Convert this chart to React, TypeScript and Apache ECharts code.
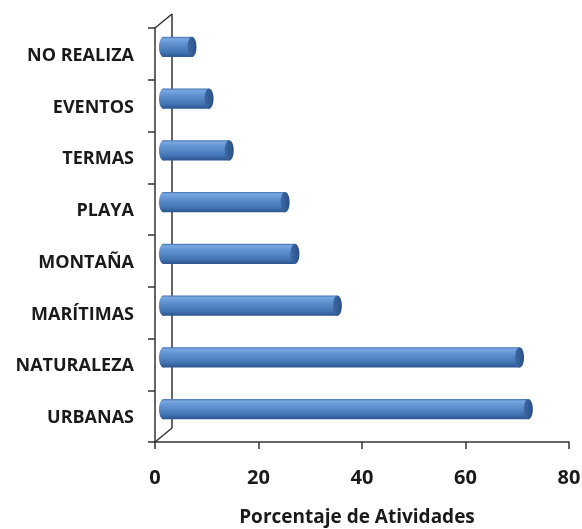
import React, { useEffect, useRef } from "react";
import * as echarts from "echarts";

const categories = ["URBANAS", "NATURALEZA", "MARÍTIMAS", "MONTAÑA", "PLAYA", "TERMAS", "EVENTOS", "NO REALIZA"];
const values = [70.5, 68.8, 33.6, 25.4, 23.5, 12.7, 8.8, 5.5];
const xTicks = [0, 20, 40, 60, 80];
const xAxisTitle = "Porcentaje de Atividades";

const GRID_LEFT = 155;
const GRID_RIGHT = 13;
const GRID_TOP = 28;
const GRID_BOTTOM = 87;
const DEPTH_X = 17;
const DEPTH_Y = -14;

export default function App() {
  const ref = useRef<HTMLDivElement>(null);
  useEffect(() => {
    document.body.style.margin = "0";
    const chart = echarts.init(ref.current!, null, { renderer: "svg" });
    const H = 529;
    const bodyGrad = new echarts.graphic.LinearGradient(0, 0, 0, 1, [
      { offset: 0, color: "#4674b4" },
      { offset: 0.1, color: "#78a6e0" },
      { offset: 0.35, color: "#5f90d0" },
      { offset: 0.75, color: "#4476b6" },
      { offset: 1, color: "#2b558f" },
    ]);
    const capGrad = new echarts.graphic.LinearGradient(0, 0, 1, 0, [
      { offset: 0, color: "#3c6aa6" },
      { offset: 1, color: "#2a4f86" },
    ]);
    const fx = GRID_LEFT;
    const top = GRID_TOP;
    const bottom = H - GRID_BOTTOM;
    const ls = { stroke: "#333", lineWidth: 1.5 };
    const option: any = {
      animation: false,
      grid: { left: GRID_LEFT, right: GRID_RIGHT, top: GRID_TOP, bottom: GRID_BOTTOM, containLabel: false, outerBoundsMode: "none" },
      xAxis: {
        type: "value",
        min: xTicks[0],
        max: xTicks[xTicks.length - 1],
        interval: 20,
        splitLine: { show: false },
        axisLine: { show: true, lineStyle: { color: "#333", width: 1.5 } },
        axisTick: { show: true, length: 7, lineStyle: { color: "#333", width: 1.5 } },
        axisLabel: { margin: 24, fontFamily: "Open Sans", fontWeight: "bold", fontSize: 20, color: "#1a1a1a" },
        name: xAxisTitle,
        nameLocation: "middle",
        nameGap: 64,
        nameTextStyle: { fontFamily: "Open Sans", fontWeight: "bold", fontSize: 19, color: "#1a1a1a", padding: [0, 10, 0, 0] },
      },
      yAxis: {
        type: "category",
        data: categories,
        axisLine: { show: true, lineStyle: { color: "#333", width: 1.5 } },
        axisTick: { show: true, length: 7, lineStyle: { color: "#333", width: 1.5 } },
        axisLabel: { margin: 21, fontFamily: "Open Sans", fontWeight: "bold", fontSize: 18, color: "#1a1a1a" },
      },
      graphic: [
        { type: "line", z: 1, shape: { x1: fx + DEPTH_X, y1: top + DEPTH_Y, x2: fx + DEPTH_X, y2: bottom + DEPTH_Y }, style: ls },
        { type: "line", z: 1, shape: { x1: fx, y1: top, x2: fx + DEPTH_X, y2: top + DEPTH_Y }, style: ls },
        { type: "line", z: 1, shape: { x1: fx, y1: bottom, x2: fx + DEPTH_X, y2: bottom + DEPTH_Y }, style: ls },
      ],
      series: [
        {
          type: "custom",
          z: 5,
          encode: { x: 0, y: 1 },
          data: values.map((v, i) => [v, i]),
          renderItem: (params: any, api: any) => {
            const cat = api.value(1);
            const v = api.value(0);
            const s = api.coord([0, cat]);
            const e = api.coord([v, cat]);
            const band = api.size([0, 1])[1];
            const h = band * 0.39;
            const rx = 4.5;
            const dx = DEPTH_X / 2;
            const dy = DEPTH_Y / 2;
            const x0 = s[0] + dx;
            const x1 = e[0] + dx;
            const cy = s[1] + dy;
            return {
              type: "group",
              children: [
                { type: "ellipse", shape: { cx: x0, cy, rx, ry: h / 2 }, style: { fill: bodyGrad } },
                { type: "rect", shape: { x: x0, y: cy - h / 2, width: x1 - x0, height: h }, style: { fill: bodyGrad } },
                { type: "ellipse", shape: { cx: x1, cy, rx, ry: h / 2 }, style: { fill: capGrad } },
              ],
            };
          },
        },
      ],
    };
    chart.setOption(option);
    return () => chart.dispose();
  }, []);
  return <div ref={ref} style={{ position: "fixed", left: 0, top: 0, width: 582, height: 529 }} />;
}
